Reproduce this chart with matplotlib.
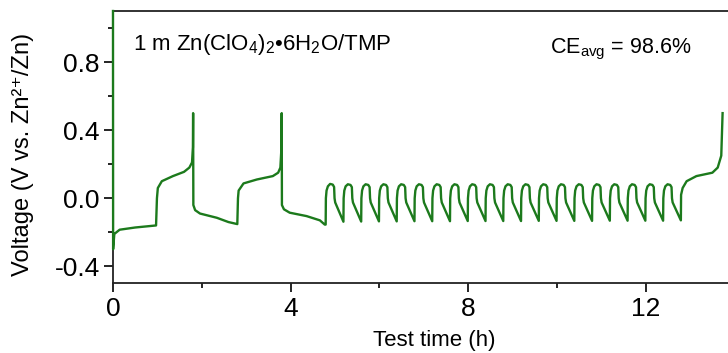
import matplotlib
matplotlib.use('Agg')
import matplotlib.pyplot as plt
from matplotlib.ticker import MultipleLocator, FormatStrFormatter

plt.rcParams['font.family'] = ['Liberation Sans', 'DejaVu Sans']
plt.rcParams['mathtext.fontset'] = 'custom'
plt.rcParams['mathtext.rm'] = 'Liberation Sans'
plt.rcParams['mathtext.it'] = 'Liberation Sans:italic'
plt.rcParams['axes.unicode_minus'] = False

LINE_COLOR = '#1c7a1c'

# ---- full plating / stripping before the short cycles ----
t_start = [0.0, 0.003, 0.03, 0.15, 0.5, 0.97,
           0.99, 1.01, 1.1, 1.35, 1.6, 1.72, 1.78, 1.80, 1.805,
           1.81, 1.85, 1.96, 2.34, 2.6, 2.80,
           2.815, 2.83, 2.94, 3.24, 3.6, 3.72, 3.77, 3.795, 3.80,
           3.805, 3.85, 3.98, 4.36, 4.66, 4.77]
v_start = [1.1, -0.30, -0.21, -0.185, -0.172, -0.16,
           0.0, 0.06, 0.10, 0.13, 0.155, 0.18, 0.21, 0.30, 0.50,
           -0.04, -0.07, -0.09, -0.115, -0.14, -0.152,
           0.0, 0.045, 0.087, 0.11, 0.13, 0.15, 0.18, 0.30, 0.50,
           -0.04, -0.065, -0.085, -0.105, -0.13, -0.155]

# ---- 0.4 h plating / stripping cycles ----
t_cycles = [
    4.79, 4.795, 4.81, 4.84, 4.89, 4.95, 4.98, 4.99, 5.005,
    5.19, 5.195, 5.21, 5.24, 5.29, 5.35, 5.38, 5.39, 5.405,
    5.59, 5.595, 5.61, 5.64, 5.69, 5.75, 5.78, 5.79, 5.805,
    5.99, 5.995, 6.01, 6.04, 6.09, 6.15, 6.18, 6.19, 6.205,
    6.39, 6.395, 6.41, 6.44, 6.49, 6.55, 6.58, 6.59, 6.605,
    6.79, 6.795, 6.81, 6.84, 6.89, 6.95, 6.98, 6.99, 7.005,
    7.19, 7.195, 7.21, 7.24, 7.29, 7.35, 7.38, 7.39, 7.405,
    7.59, 7.595, 7.61, 7.64, 7.69, 7.75, 7.78, 7.79, 7.805,
    7.99, 7.995, 8.01, 8.04, 8.09, 8.15, 8.18, 8.19, 8.205,
    8.39, 8.395, 8.41, 8.44, 8.49, 8.55, 8.58, 8.59, 8.605,
    8.79, 8.795, 8.81, 8.84, 8.89, 8.95, 8.98, 8.99, 9.005,
    9.19, 9.195, 9.21, 9.24, 9.29, 9.35, 9.38, 9.39, 9.405,
    9.59, 9.595, 9.61, 9.64, 9.69, 9.75, 9.78, 9.79, 9.805,
    9.99, 9.995, 10.01, 10.04, 10.09, 10.15, 10.18, 10.19, 10.205,
    10.39, 10.395, 10.41, 10.44, 10.49, 10.55, 10.58, 10.59, 10.605,
    10.79, 10.795, 10.81, 10.84, 10.89, 10.95, 10.98, 10.99, 11.005,
    11.19, 11.195, 11.21, 11.24, 11.29, 11.35, 11.38, 11.39, 11.405,
    11.59, 11.595, 11.61, 11.64, 11.69, 11.75, 11.78, 11.79, 11.805,
    11.99, 11.995, 12.01, 12.04, 12.09, 12.15, 12.18, 12.19, 12.205,
    12.39, 12.395, 12.41, 12.44, 12.49, 12.55, 12.58, 12.59, 12.605,
]
v_cycles = [
    -0.155, 0.0, 0.045, 0.070, 0.084, 0.080, 0.066, 0.0, -0.025,
    -0.138, 0.0, 0.045, 0.070, 0.082, 0.078, 0.065, 0.0, -0.025,
    -0.137, 0.0, 0.045, 0.070, 0.082, 0.078, 0.065, 0.0, -0.025,
    -0.136, 0.0, 0.045, 0.070, 0.082, 0.078, 0.065, 0.0, -0.025,
    -0.136, 0.0, 0.045, 0.070, 0.082, 0.078, 0.065, 0.0, -0.025,
    -0.135, 0.0, 0.045, 0.070, 0.082, 0.078, 0.065, 0.0, -0.025,
    -0.135, 0.0, 0.045, 0.070, 0.082, 0.078, 0.065, 0.0, -0.025,
    -0.135, 0.0, 0.045, 0.070, 0.082, 0.078, 0.065, 0.0, -0.025,
    -0.134, 0.0, 0.045, 0.070, 0.082, 0.078, 0.065, 0.0, -0.025,
    -0.134, 0.0, 0.045, 0.070, 0.082, 0.078, 0.065, 0.0, -0.025,
    -0.134, 0.0, 0.045, 0.070, 0.082, 0.078, 0.065, 0.0, -0.025,
    -0.134, 0.0, 0.045, 0.070, 0.082, 0.078, 0.065, 0.0, -0.025,
    -0.133, 0.0, 0.045, 0.070, 0.082, 0.078, 0.065, 0.0, -0.025,
    -0.133, 0.0, 0.045, 0.070, 0.082, 0.078, 0.065, 0.0, -0.025,
    -0.133, 0.0, 0.045, 0.070, 0.082, 0.078, 0.065, 0.0, -0.025,
    -0.133, 0.0, 0.045, 0.070, 0.082, 0.078, 0.065, 0.0, -0.025,
    -0.132, 0.0, 0.045, 0.070, 0.082, 0.078, 0.065, 0.0, -0.025,
    -0.132, 0.0, 0.045, 0.070, 0.082, 0.078, 0.065, 0.0, -0.025,
    -0.132, 0.0, 0.045, 0.070, 0.082, 0.078, 0.065, 0.0, -0.025,
    -0.132, 0.0, 0.045, 0.070, 0.082, 0.078, 0.065, 0.0, -0.025,
]

# ---- final full stripping to 0.5 V ----
t_end = [12.79, 12.795, 12.83, 12.92, 13.14, 13.5, 13.62, 13.70, 13.73]
v_end = [-0.13, 0.02, 0.06, 0.10, 0.13, 0.15, 0.18, 0.25, 0.50]

time_h = t_start + t_cycles + t_end
voltage = v_start + v_cycles + v_end

fig = plt.figure(figsize=(7.28, 3.53), dpi=100)
ax = fig.add_axes([0.1552, 0.1974, 0.8819, 0.7714])

# drawn unclipped and above the spines so the trace at t = 0 covers the axis line
ax.plot(time_h, voltage, color=LINE_COLOR, lw=1.7, solid_joinstyle='round',
        zorder=3, clip_on=False)

ax.set_xlim(0, 14.46)
ax.set_ylim(-0.5, 1.1)
ax.xaxis.set_major_locator(MultipleLocator(4))
ax.xaxis.set_minor_locator(MultipleLocator(2))
ax.yaxis.set_major_locator(MultipleLocator(0.4))
ax.yaxis.set_minor_locator(MultipleLocator(0.2))
ax.yaxis.set_major_formatter(FormatStrFormatter('%.1f'))

for side in ['left', 'bottom', 'top', 'right']:
    ax.spines[side].set_linewidth(1.3)
    ax.spines[side].set_color('#222222')

ax.tick_params(which='major', direction='out', length=6.5, width=1.2,
               labelsize=19, pad=3, top=False, right=False)
ax.tick_params(which='minor', direction='out', length=3.5, width=1.2,
               top=False, right=False)

ax.set_xlabel('Test time (h)', fontsize=16, labelpad=7)
ax.set_ylabel('Voltage (V vs. Zn²⁺/Zn)', fontsize=17)
ax.yaxis.set_label_coords(-0.123, 0.475)

ax.text(0.45, 0.87, '1 m Zn(ClO$_4$)$_2$•6H$_2$O/TMP', fontsize=16,
        va='baseline', ha='left')
ax.text(9.84, 0.853, 'CE$_{\\mathrm{avg}}$ = 98.6%', fontsize=15.5,
        va='baseline', ha='left')

fig.savefig('out.png', dpi=100)
